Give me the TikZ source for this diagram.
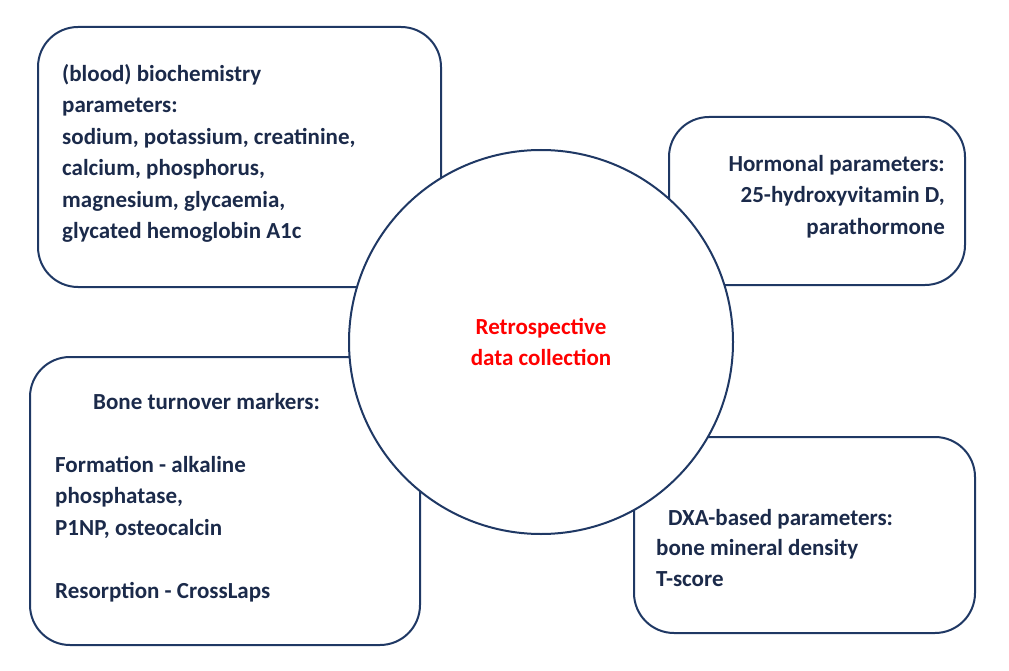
\documentclass[tikz,border=0pt]{standalone}
\usepackage{fontspec}
\setmainfont{Carlito}
\begin{document}
\begin{tikzpicture}[x=1pt,y=-1pt,
  box/.style={draw=boxc,line width=2pt,rounded corners=40pt},
  txt/.style={font=\bfseries\fontsize{23}{31.5}\selectfont,text=txtc,inner sep=0pt}]
\definecolor{boxc}{HTML}{1F3864}
\definecolor{txtc}{HTML}{1B2A4A}
\useasboundingbox (0,0) rectangle (1009,671);
\draw[box] (38,27) rectangle (441,287);
\draw[box] (669,117) rectangle (965,285);
\draw[box] (30,357) rectangle (420,645);
\draw[box] (634,437) rectangle (975,633);
\node[circle,draw=boxc,line width=2pt,fill=white,minimum size=384pt] (c) at (541,342) {};
\node[txt,text=red,align=center] (ct) at (541,342) {Retrospective\\data collection};
\node[txt,anchor=north west,align=left] (t1) at (62,64) {(blood) biochemistry\\parameters:\\sodium, potassium, creatinine,\\calcium, phosphorus,\\magnesium, glycaemia,\\glycated hemoglobin A1c};
\node[txt,anchor=north east,align=right] (t2) at (945,155) {Hormonal parameters:\\25-hydroxyvitamin D,\\parathormone};
\node[txt,anchor=north west,align=left] (t3a) at (93,393) {Bone turnover markers:};
\node[txt,anchor=north west,align=left] (t3) at (55,456) {Formation - alkaline\\phosphatase,\\P1NP, osteocalcin\\[31.5pt]Resorption - CrossLaps};
\node[txt,anchor=north west,align=left] (t4) at (668,509) {DXA-based parameters:};
\node[txt,anchor=north west,align=left] (t4b) at (656,539) {bone mineral density\\T-score};
\end{tikzpicture}
\end{document}
